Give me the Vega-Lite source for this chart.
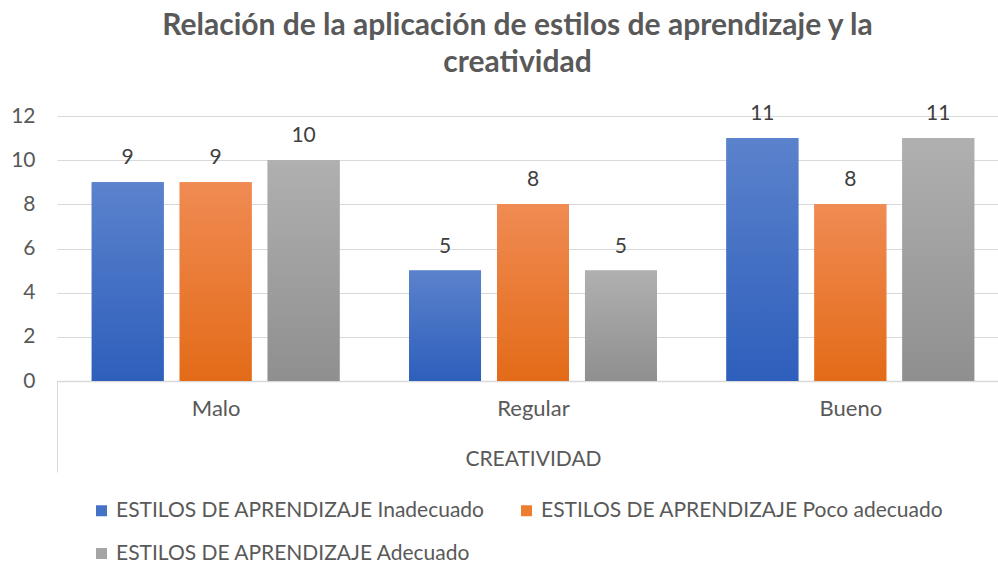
{
  "$schema": "https://vega.github.io/schema/vega-lite/v6.json",
  "width": 941,
  "height": 265,
  "autosize": "none",
  "padding": {"left": 57, "top": 116, "right": 0, "bottom": 181},
  "background": "white",
  "config": {
    "font": "Lato",
    "view": {"stroke": null}
  },
  "title": {
    "text": ["Relación de la aplicación de estilos de aprendizaje y la", "creatividad"],
    "fontSize": 30,
    "fontWeight": "bold",
    "color": "#595959",
    "anchor": "middle",
    "frame": "group",
    "lineHeight": 37,
    "offset": 25,
    "dx": -10
  },
  "data": {
    "values": [
      {"creatividad": "Malo", "serie": "ESTILOS DE APRENDIZAJE Inadecuado", "valor": 9},
      {"creatividad": "Malo", "serie": "ESTILOS DE APRENDIZAJE Poco adecuado", "valor": 9},
      {"creatividad": "Malo", "serie": "ESTILOS DE APRENDIZAJE Adecuado", "valor": 10},
      {"creatividad": "Regular", "serie": "ESTILOS DE APRENDIZAJE Inadecuado", "valor": 5},
      {"creatividad": "Regular", "serie": "ESTILOS DE APRENDIZAJE Poco adecuado", "valor": 8},
      {"creatividad": "Regular", "serie": "ESTILOS DE APRENDIZAJE Adecuado", "valor": 5},
      {"creatividad": "Bueno", "serie": "ESTILOS DE APRENDIZAJE Inadecuado", "valor": 11},
      {"creatividad": "Bueno", "serie": "ESTILOS DE APRENDIZAJE Poco adecuado", "valor": 8},
      {"creatividad": "Bueno", "serie": "ESTILOS DE APRENDIZAJE Adecuado", "valor": 11}
    ]
  },
  "encoding": {
    "x": {
      "field": "creatividad",
      "type": "nominal",
      "sort": ["Malo", "Regular", "Bueno"],
      "scale": {"range": [0, 952], "paddingInner": 0, "paddingOuter": 0},
      "axis": {
        "title": "CREATIVIDAD",
        "titleFontSize": 21,
        "titleFontWeight": "normal",
        "titleColor": "#595959",
        "titleY": 78,
        "titleBaseline": "middle",
        "labelFontSize": 22,
        "labelColor": "#595959",
        "labelAngle": 0,
        "labelPadding": -74,
        "tickOffset": -158.67,
        "labelOffset": 158.67,
        "tickSize": 91,
        "tickColor": {"condition": {"test": "datum.value === 'Malo'", "value": "#d9d9d9"}, "value": "transparent"},
        "domainColor": "#d9d9d9",
        "domainWidth": 1.5,
        "grid": false
      }
    },
    "xOffset": {
      "field": "serie",
      "type": "nominal",
      "scale": {
        "domain": ["ESTILOS DE APRENDIZAJE Inadecuado", "ESTILOS DE APRENDIZAJE Poco adecuado", "ESTILOS DE APRENDIZAJE Adecuado"],
        "paddingInner": 0.182,
        "paddingOuter": 0.395
      }
    },
    "y": {
      "field": "valor",
      "type": "quantitative",
      "scale": {"domain": [0, 12]},
      "axis": {
        "title": null,
        "values": [0, 2, 4, 6, 8, 10, 12],
        "labelFontSize": 21,
        "labelColor": "#595959",
        "labelPadding": 22,
        "domain": false,
        "ticks": false,
        "gridColor": "#d9d9d9",
        "gridWidth": 1.2
      }
    }
  },
  "layer": [
    {
      "mark": {"type": "bar"},
      "encoding": {
        "color": {
          "field": "serie",
          "type": "nominal",
          "scale": {
            "domain": ["ESTILOS DE APRENDIZAJE Inadecuado", "ESTILOS DE APRENDIZAJE Poco adecuado", "ESTILOS DE APRENDIZAJE Adecuado"],
            "range": ["#4472c4", "#ed7d31", "#a5a5a5"]
          },
          "legend": {
            "title": null,
            "orient": "none",
            "legendX": 34,
            "legendY": 384,
            "direction": "horizontal",
            "columns": 2,
            "columnPadding": 31,
            "rowPadding": 21,
            "padding": 0,
            "symbolType": "square",
            "symbolSize": 121,
            "symbolStrokeWidth": 0,
            "labelFontSize": 21,
            "labelColor": "#595959",
            "labelOffset": 4,
            "labelLimit": 500
          }
        }
      }
    },
    {
      "transform": [{"filter": "datum.serie === 'ESTILOS DE APRENDIZAJE Inadecuado'"}],
      "mark": {
        "type": "bar",
        "fill": {"gradient": "linear", "x1": 0, "y1": 0, "x2": 0, "y2": 1,
          "stops": [{"offset": 0, "color": "#5b82cc"}, {"offset": 1, "color": "#2e5fbc"}]}
      }
    },
    {
      "transform": [{"filter": "datum.serie === 'ESTILOS DE APRENDIZAJE Poco adecuado'"}],
      "mark": {
        "type": "bar",
        "fill": {"gradient": "linear", "x1": 0, "y1": 0, "x2": 0, "y2": 1,
          "stops": [{"offset": 0, "color": "#f08b53"}, {"offset": 1, "color": "#e36b18"}]}
      }
    },
    {
      "transform": [{"filter": "datum.serie === 'ESTILOS DE APRENDIZAJE Adecuado'"}],
      "mark": {
        "type": "bar",
        "fill": {"gradient": "linear", "x1": 0, "y1": 0, "x2": 0, "y2": 1,
          "stops": [{"offset": 0, "color": "#b0b0b0"}, {"offset": 1, "color": "#8f8f8f"}]}
      }
    },
    {
      "mark": {"type": "text", "fontSize": 21, "color": "#404040", "baseline": "alphabetic", "dy": -18},
      "encoding": {"text": {"field": "valor", "type": "quantitative"}}
    }
  ]
}
